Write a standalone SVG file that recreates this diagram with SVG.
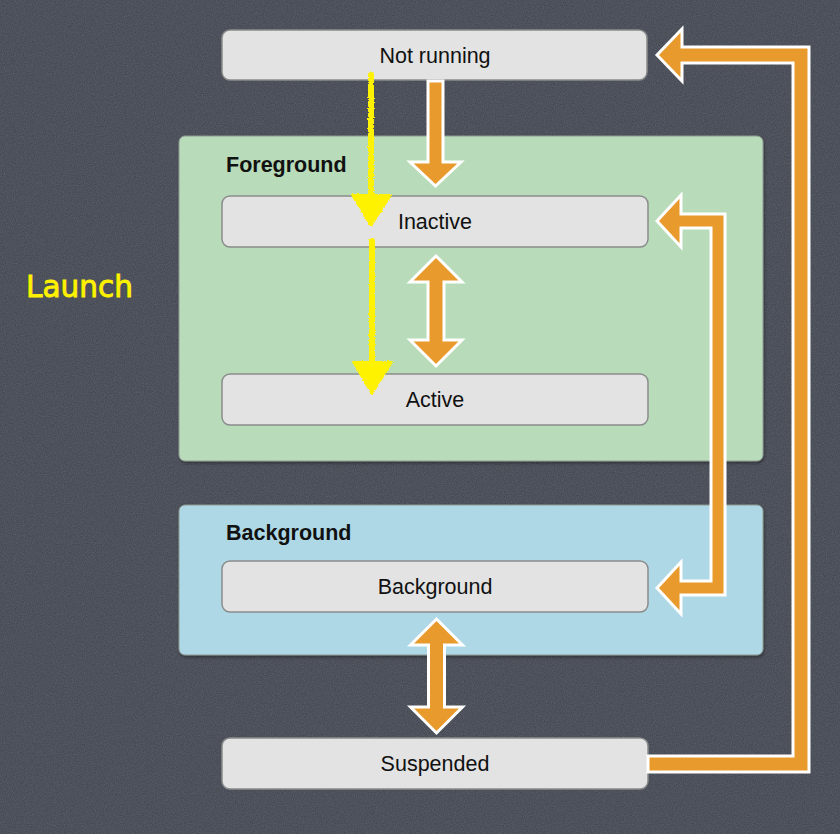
<svg xmlns="http://www.w3.org/2000/svg" width="840" height="834" viewBox="0 0 840 834">
<defs>
<filter id="noise" x="0" y="0" width="100%" height="100%">
<feTurbulence type="fractalNoise" baseFrequency="0.9" numOctaves="2" seed="3" result="t"/>
<feColorMatrix in="t" type="matrix" values="0 0 0 0 0.6  0 0 0 0 0.62  0 0 0 0 0.68  0 0 0 0.22 0" result="n"/>
<feComposite in="n" in2="SourceGraphic" operator="in"/>
</filter>
<filter id="rough" x="-20%" y="-5%" width="140%" height="110%">
<feTurbulence type="fractalNoise" baseFrequency="0.6" numOctaves="2" seed="7" result="t"/>
<feDisplacementMap in="SourceGraphic" in2="t" scale="3" xChannelSelector="R" yChannelSelector="G"/>
</filter>
<filter id="shadow" x="-5%" y="-5%" width="110%" height="115%">
<feDropShadow dx="1" dy="2" stdDeviation="1.5" flood-color="#000" flood-opacity="0.35"/>
</filter>
</defs>
<style>
.node rect{fill:#e2e3e2;stroke:#8a8c8c;stroke-width:1.5}
.node text{font-family:"Liberation Sans",Arial,sans-serif;font-size:21.5px;fill:#111;text-anchor:middle}
.grp text{font-family:"Liberation Sans",Arial,sans-serif;font-size:21.5px;font-weight:bold;fill:#111}
.grp rect{stroke:#8e9a92;stroke-width:1}
.orange{fill:#e99a2c;stroke:#ffffff;stroke-width:3;stroke-linejoin:miter}
.yel{stroke:#fff200;fill:none;stroke-width:6;stroke-linecap:round}
.yelhead{fill:#fff200;stroke:#fff200;stroke-width:2;stroke-linejoin:round}
</style>
<rect width="840" height="834" fill="#3e424c"/>
<rect width="840" height="834" fill="#3e424c" filter="url(#noise)"/>

<g id="foreground-group" class="grp">
<rect x="179" y="136" width="584" height="325" rx="6" fill="#b8dcba" filter="url(#shadow)"/>
<text x="226" y="172">Foreground</text>
</g>
<g id="background-group" class="grp">
<rect x="179" y="505" width="584" height="150" rx="6" fill="#aed8e6" filter="url(#shadow)"/>
<text x="226" y="540">Background</text>
</g>

<g id="not-running" class="node">
<rect x="222" y="30" width="425" height="50" rx="8"/>
<text x="435" y="63">Not running</text>
</g>
<g id="inactive" class="node">
<rect x="222" y="196" width="426" height="51" rx="8"/>
<text x="435" y="229">Inactive</text>
</g>
<g id="active" class="node">
<rect x="222" y="374" width="426" height="51" rx="8"/>
<text x="435" y="407">Active</text>
</g>
<g id="background" class="node">
<rect x="222" y="561" width="426" height="51" rx="8"/>
<text x="435" y="594">Background</text>
</g>
<g id="suspended" class="node">
<rect x="222" y="738" width="426" height="51" rx="8"/>
<text x="435" y="771">Suspended</text>
</g>

<text id="launch" x="26" y="297" font-family="'DejaVu Sans',sans-serif" font-size="31" fill="#fff200" stroke="#fff200" stroke-width="0.9" textLength="107" lengthAdjust="spacingAndGlyphs">Launch</text>

<g id="connectors">
<polygon class="orange" points="428,81 443,81 443,162 461,162 435.5,186 410,162 428,162"/>
<polygon class="orange" points="436,256 462,282 444,282 444,340 462,340 436,366 410,340 428,340 428,282 410,282"/>
<polygon class="orange" points="436.5,619 462.5,645 444.5,645 444.5,707 462.5,707 436.5,733 410.5,707 428.5,707 428.5,645 410.5,645"/>
<polygon class="orange" points="648,756 793,756 793,63 682,63 682,81 657,55 682,29 682,47 809,47 809,772 648,772"/>
<polygon class="orange" points="657,221 681,195 681,214 725,214 725,595 681,595 681,614 657,588 681,562 681,581 711,581 711,228 681,228 681,247"/>
<g filter="url(#rough)">
<line class="yel" x1="371" y1="75" x2="371" y2="200"/>
<polygon class="yelhead" points="352,195 391,195 371,226"/>
<line class="yel" x1="372" y1="241" x2="372" y2="365"/>
<polygon class="yelhead" points="353,362 392,362 372,394"/>
</g>
</g>
</svg>
